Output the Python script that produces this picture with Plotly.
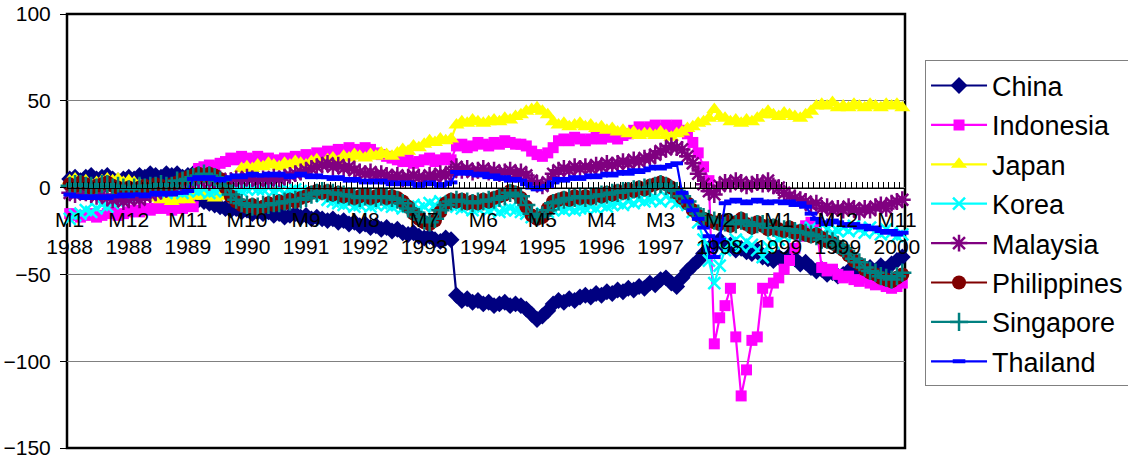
import plotly.graph_objects as go

# Monthly periods, 1988 M1 .. 2000 M12
years = list(range(1988, 2001))
periods = [f"M{m}<br>{y}" for y in years for m in range(1, 13)]

china = [
    5, 6, 4, 6, 7, 5, 6, 7, 5, 4, 5, 6,
    5, 7, 6, 8, 7, 6, 8, 7, 8, 6, 7, 8,
    -7, -8, -9, -10, -11, -12, -13, -12, -14, -13, -15, -14,
    -15, -14, -16, -15, -17, -16, -15, -17, -16, -18, -17, -18,
    -19, -18, -20, -19, -21, -20, -22, -21, -23, -22, -24, -23,
    -25, -24, -26, -27, -26, -28, -29, -28, -30, -31, -29, -30,
    -62, -65, -64, -66, -65, -67, -66, -68, -67, -66, -68, -67,
    -68, -70, -73, -76, -74, -71, -67, -65, -66, -64, -65, -63,
    -62, -63, -61, -62, -60, -61, -59, -60, -58, -59, -57, -58,
    -55, -56, -53, -52, -55, -57, -52, -48, -45, -42, -38, -35,
    -32, -30, -34, -33, -36, -35, -37, -38, -36, -40, -41, -42,
    -40, -42, -39, -41, -44, -43, -46, -48, -47, -50, -49, -51,
    -50, -48, -51, -47, -49, -46, -48, -45, -47, -44, -42, -40,
]
indonesia = [
    -15, -16, -17, -16, -15, -17, -16, -15, -14, -16, -15, -14,
    -13, -14, -12, -13, -12, -11, -12, -13, -11, -12, -10, -11,
    11, 12, 13, 12, 14, 15, 17, 16, 18, 17, 16, 18,
    16, 17, 15, 16, 17, 16, 18, 17, 19, 18, 20, 19,
    21, 20, 22, 21, 23, 22, 21, 23, 22, 20, 19, 18,
    17, 16, 15, 16, 14, 15, 16, 17, 15, 16, 17, 16,
    24, 25, 23, 24, 26, 25, 24, 26, 25, 27, 26, 25,
    25, 24, 21, 19, 18, 20, 23, 27, 28, 27, 29, 28,
    27, 28, 29, 28, 30, 29, 28, 30, 31, 33, 35, 34,
    35, 36, 34, 36, 35, 36, 33, 31, 26, 20, 12, 4,
    -90, -75, -68, -58, -86, -120, -105, -88, -86, -58, -66, -55,
    -52, -47, -42, -35, -28, -22, -20, -23, -46, -48, -47, -50,
    -52, -51, -53, -54, -52, -55, -56, -55, -57, -58, -57, -55,
]
japan = [
    4, 5, 3, 4, 2, 3, 4, 5, 4, 5, 3, 4,
    3, 2, 0, -4, -6, -7, -6, -8, -7, -6, -7, -5,
    -4, -5, -3, -6, -4, -5, -3, -2, 11, 12, 11, 13,
    12, 14, 13, 12, 14, 13, 15, 14, 13, 15, 16, 14,
    16, 17, 15, 18, 17, 19, 18, 17, 19, 18, 20, 19,
    18, 20, 22, 21, 24, 23, 25, 27, 26, 28, 27, 28,
    36, 38, 37, 39, 38, 37, 38, 39, 38, 40, 39, 41,
    42, 44, 45, 46, 44, 42, 38, 36, 37, 35, 36, 37,
    35, 36, 34, 35, 33, 34, 32, 33, 31, 32, 30, 31,
    31, 30, 32, 30, 29, 31, 32, 34, 35, 37, 38, 40,
    45, 41, 40, 38, 39, 37, 39, 38, 40, 42, 44, 42,
    41, 43, 42, 41, 40, 42, 44, 47, 48, 47, 49, 46,
    47, 46, 48, 47, 46, 48, 47, 46, 48, 47, 48, 46,
]
korea = [
    -18, -16, -15, -13, -14, -12, -10, -11, -9, -8, -6, -5,
    -4, -3, -4, -2, -3, -2, -3, -1, -2, -3, -2, -1,
    -2, -1, -3, -2, -1, -2, 0, -1, -2, -1, 0, -1,
    -1, 0, -2, -1, -3, -2, -1, -2, -3, -4, -3, -5,
    -7, -8, -9, -10, -9, -11, -10, -9, -11, -10, -9, -10,
    -11, -10, -12, -11, -10, -12, -11, -9, -10, -8, -9, -10,
    -11, -12, -11, -13, -12, -11, -13, -12, -14, -13, -12, -13,
    -14, -15, -17, -16, -15, -14, -13, -12, -13, -12, -13, -12,
    -12, -11, -12, -10, -11, -10, -9, -10, -8, -9, -7, -8,
    -7, -6, -8, -5, -7, -9, -8, -10, -14, -20, -30, -42,
    -55, -45, -36, -32, -30, -34, -31, -33, -36, -40, -34, -32,
    -30, -28, -25, -27, -24, -26, -23, -25, -27, -24, -26, -25,
    -23, -25, -22, -24, -26, -23, -25, -27, -24, -26, -28, -27,
]
malaysia = [
    -3, -4, -2, -3, -4, -5, -4, -6, -7, -6, -8, -7,
    -6, -7, -5, -4, -3, -2, -1, 0, 1, 2, 3, 4,
    4, 5, 3, 4, 5, 3, 4, 5, 4, 6, 5, 4,
    5, 4, 6, 5, 6, 7, 8, 9, 10, 11, 12, 13,
    14, 12, 13, 11, 12, 10, 9, 8, 9, 7, 8, 7,
    6, 7, 5, 6, 7, 6, 5, 7, 6, 8, 7, 9,
    12, 10, 11, 9, 10, 11, 9, 10, 8, 9, 10, 8,
    9, 7, 4, 2, 1, 3, 8, 10, 11, 10, 12, 11,
    12, 11, 13, 12, 14, 13, 14, 15, 14, 16, 15, 17,
    17, 19, 21, 22, 24, 23, 22, 18, 14, 8, 2, -2,
    -4, 1, 3, 2, 4, 3, 1, 2, 3, 2, 4, 1,
    0, -3, -5, -6, -7, -8, -10, -9, -12, -11, -13, -12,
    -13, -11, -12, -14, -12, -13, -11, -10, -12, -9, -8, -7,
]
philippines = [
    2, 1, 3, 2, 0, 1, 2, 3, 1, 0, -1, 0,
    -1, 0, 1, 0, 2, 1, 0, 2, 3, 5, 6, 7,
    8, 7, 8, 7, 5, 0, -5, -8, -10, -11, -10, -12,
    -11, -9, -10, -8, -9, -7, -8, -6, -5, -3, -2, -3,
    -2, -4, -3, -5, -4, -6, -5, -4, -6, -5, -4, -6,
    -5, -6, -8, -11, -15, -18, -20, -21, -19, -14, -9, -7,
    -8, -7, -9, -8, -9, -7, -8, -6, -5, -4, -2, -3,
    -6, -11, -16, -18, -17, -12, -8, -7, -6, -7, -5, -6,
    -5, -6, -4, -5, -3, -4, -2, -3, -1, -2, 0, -1,
    1, 2, 3, 2, 0, -3, -6, -9, -13, -16, -18, -19,
    -20, -21, -19, -22, -20, -18, -21, -23, -20, -22, -24, -22,
    -24, -25, -23, -26, -25, -27, -28, -27, -29, -31, -32, -34,
    -36, -39, -42, -44, -47, -49, -50, -52, -53, -54, -52, -50,
]
singapore = [
    1, 2, 2, 1, 1, 0, 2, 2, 0, 1, 0, -1,
    0, 1, 0, 1, 1, 2, 1, 1, 4, 4, 5, 6,
    7, 8, 7, 6, 4, 1, -4, -7, -9, -10, -11, -11,
    -10, -10, -9, -9, -8, -8, -7, -7, -6, -4, -3, -2,
    -3, -3, -4, -4, -5, -5, -6, -5, -5, -6, -5, -5,
    -6, -7, -9, -12, -14, -17, -19, -20, -18, -13, -10, -8,
    -7, -8, -8, -9, -8, -8, -7, -7, -6, -5, -3, -4,
    -5, -10, -15, -17, -16, -13, -9, -8, -7, -6, -6, -5,
    -6, -5, -5, -4, -4, -3, -3, -2, -2, -1, -1, 0,
    0, 1, 2, 1, -1, -2, -5, -8, -12, -15, -17, -18,
    -19, -20, -20, -21, -21, -19, -20, -22, -21, -21, -23, -23,
    -23, -24, -24, -25, -26, -26, -27, -28, -30, -30, -31, -33,
    -35, -38, -41, -43, -46, -48, -49, -51, -52, -53, -51, -49,
]
thailand = [
    -4, -5, -5, -6, -5, -6, -5, -6, -5, -5, -4, -5,
    -4, -4, -5, -4, -3, -4, -3, -4, -3, -3, -2, 5,
    6, 5, 6, 5, 4, 5, 6, 7, 6, 7, 8, 7,
    7, 8, 7, 8, 7, 6, 7, 8, 7, 6, 7, 6,
    6, 5, 6, 5, 4, 5, 4, 3, 4, 3, 4, 3,
    2, 3, 2, 3, 2, 1, 2, 3, 2, 1, 2, 3,
    9, 8, 9, 8, 7, 8, 6, 7, 5, 6, 4, 5,
    4, 2, 0, -1, 0, 1, 3, 5, 4, 5, 6, 5,
    6, 7, 6, 7, 8, 7, 8, 9, 8, 10, 9, 10,
    11, 12, 11, 12, 13, 14, -3, -8, -13, -18, -23, -28,
    -40, -30, -9, -8, -7, -8, -9, -8, -7, -8, -9, -8,
    -8, -9, -8, -10, -9, -11, -15, -18, -20, -21, -19, -20,
    -21, -22, -21, -23, -22, -24, -23, -25, -26, -25, -27, -26,
]

# name, values, colour, marker symbol, marker size, open symbol?
series = [
    ("China", china, "#000080", "diamond", 13, False),
    ("Indonesia", indonesia, "#FF00FF", "square", 11, False),
    ("Japan", japan, "#FFFF00", "triangle-up", 14, False),
    ("Korea", korea, "#00FFFF", "x-thin-open", 12, True),
    ("Malaysia", malaysia, "#800080", "asterisk-open", 14, True),
    ("Philippines", philippines, "#800000", "circle", 14, False),
    ("Singapore", singapore, "#008080", "cross-thin-open", 13, True),
    ("Thailand", thailand, "#0000FF", "line-ew-open", 9, True),
]

xs = list(range(len(periods)))
fig = go.Figure()
for name, vals, color, sym, size, is_open in series:
    marker = dict(symbol=sym, size=size, color=color)
    if is_open:
        marker["line"] = dict(color=color, width=4 if sym == "line-ew-open" else 2.5)
    else:
        marker["line"] = dict(width=0)
    fig.add_trace(go.Scatter(
        x=xs, y=vals, name=name, mode="lines+markers",
        line=dict(color=color, width=2.2),
        marker=marker, cliponaxis=False, legendgroup=name,
    ))

label_idx = list(range(0, len(periods), 11))
font = "Arial, Liberation Sans, sans-serif"

fig.update_layout(
    width=1128, height=462,
    margin=dict(l=67, r=223, t=14, b=14, autoexpand=False),
    paper_bgcolor="white", plot_bgcolor="white",
    font=dict(family=font, color="black", size=21),
    showlegend=True,
    legend=dict(
        x=1.0239, y=0.893, xanchor="left", yanchor="top",
        bordercolor="#808080", borderwidth=1, bgcolor="white",
        font=dict(family=font, size=27, color="black"),
        tracegroupgap=1.3, itemwidth=56,
    ),
    xaxis=dict(
        range=[-0.5, len(periods) - 0.5],
        anchor="free", position=0.6, automargin=False,
        showline=True, linecolor="black", linewidth=1,
        showgrid=False, zeroline=False,
        tickmode="array", tickvals=label_idx,
        ticktext=[periods[i] for i in label_idx],
        ticks="", ticklabelstandoff=13,
        tickfont=dict(family=font, size=21, color="black"),
        minor=dict(tickmode="linear", tick0=-0.5, dtick=1, ticks="inside",
                   ticklen=6, tickcolor="black", tickwidth=1, showgrid=False),
    ),
    yaxis=dict(
        range=[-150, 100], dtick=50, tick0=0, automargin=False,
        showgrid=True, gridcolor="#808080", gridwidth=1,
        zeroline=False, showline=False,
        ticks="outside", ticklen=6, tickcolor="black",
        ticklabelstandoff=5,
        tickfont=dict(family=font, size=21, color="black"),
    ),
    shapes=[dict(type="rect", xref="paper", yref="paper", x0=0, x1=1, y0=0, y1=1,
                 line=dict(color="black", width=2.5), layer="below")],
)

fig.write_html("out.html")
